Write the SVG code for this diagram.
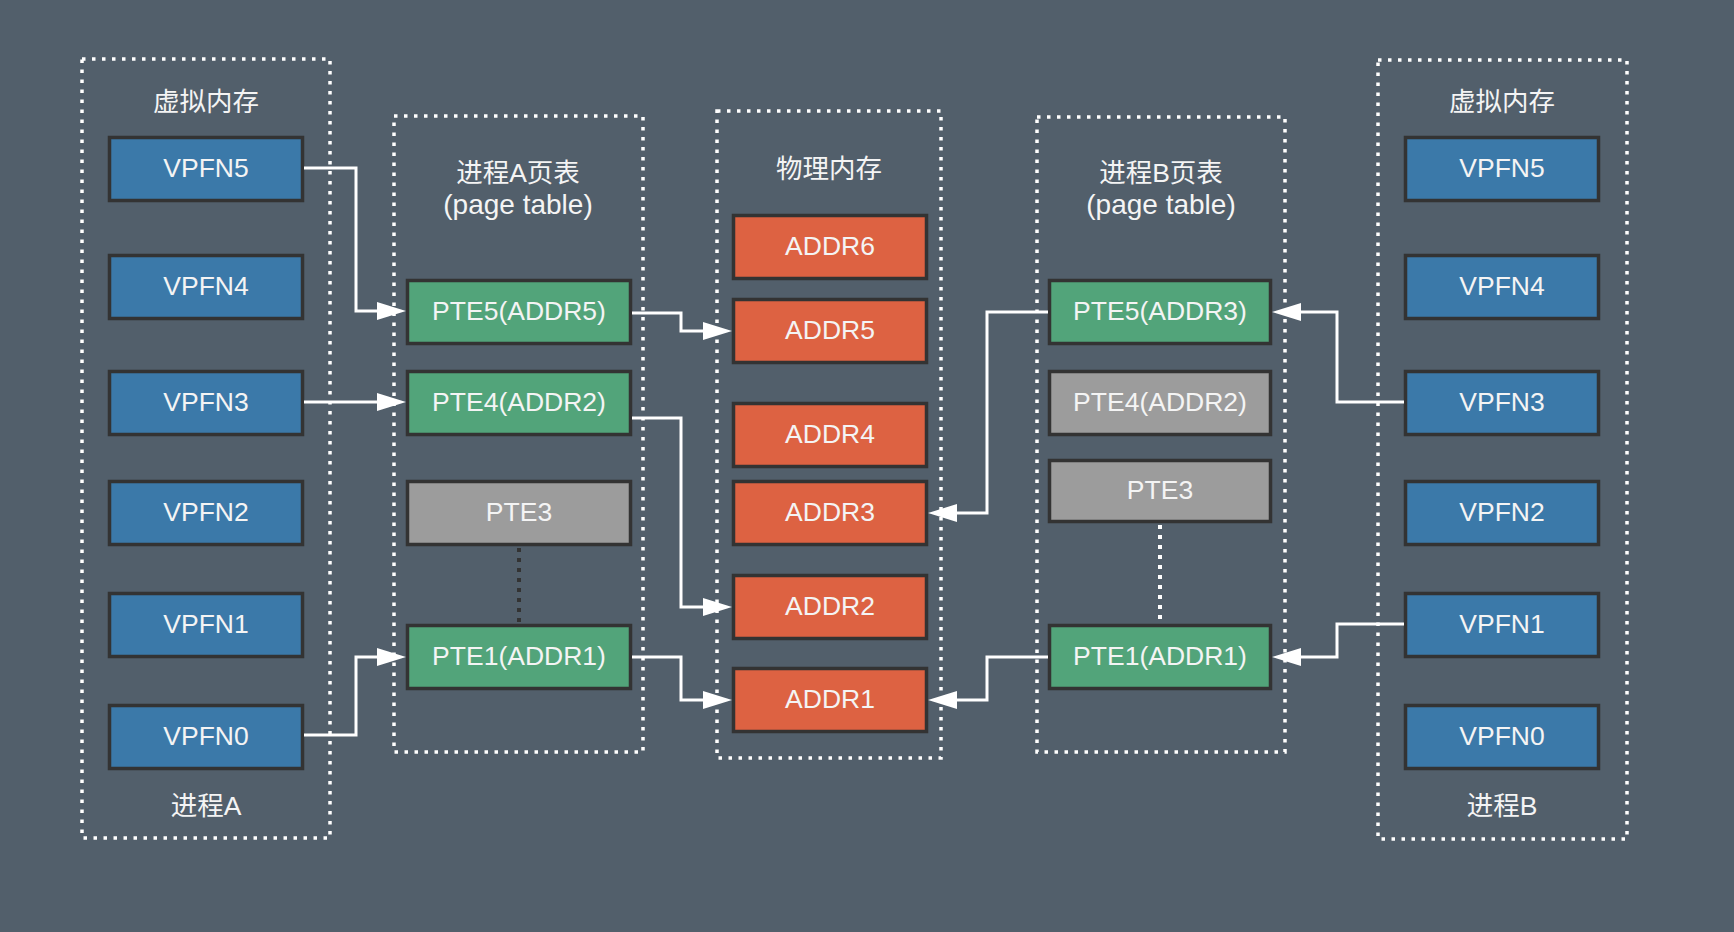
<svg xmlns="http://www.w3.org/2000/svg" width="1734" height="932" viewBox="0 0 1734 932">
<defs>
<style>
.bg{fill:#525f6b}
.grp{fill:none;stroke:#ffffff;stroke-width:3.5;stroke-dasharray:3.5 6.5}
.box{stroke:#333333;stroke-width:3.5}
.blue{fill:#3b79a9}
.green{fill:#52a47a}
.red{fill:#dd6242}
.gray{fill:#9c9c9c}
text{font-family:"Liberation Sans","Noto Sans CJK SC",sans-serif;fill:#f4f4f4;text-anchor:middle}
.lbl{font-size:26.5px}
.ttl{font-size:26.5px}
.sub{font-size:28px}
.conn{fill:none;stroke:#ffffff;stroke-width:3;marker-end:url(#arr)}
.dotd{fill:none;stroke:#333333;stroke-width:4;stroke-dasharray:4 6}
.dotw{fill:none;stroke:#ffffff;stroke-width:4;stroke-dasharray:4 6}
</style>
<marker id="arr" markerUnits="userSpaceOnUse" markerWidth="30" markerHeight="20" refX="19" refY="9" orient="auto">
<path d="M0,0 L29,9 L0,18 Z" fill="#ffffff"/>
</marker>
</defs>
<rect class="bg" x="0" y="0" width="1734" height="932"/>

<g id="processA">
<rect class="grp" x="82" y="59" width="248" height="779"/>
<text class="ttl" x="206" y="111">虚拟内存</text>
<text class="ttl" x="206" y="815">进程A</text>
</g>
<g id="a-vpfn5"><rect class="box blue" x="109.5" y="137.5" width="193" height="63"/><text class="lbl" x="206" y="177">VPFN5</text></g>
<g id="a-vpfn4"><rect class="box blue" x="109.5" y="255.5" width="193" height="63"/><text class="lbl" x="206" y="295">VPFN4</text></g>
<g id="a-vpfn3"><rect class="box blue" x="109.5" y="371.5" width="193" height="63"/><text class="lbl" x="206" y="411">VPFN3</text></g>
<g id="a-vpfn2"><rect class="box blue" x="109.5" y="481.5" width="193" height="63"/><text class="lbl" x="206" y="521">VPFN2</text></g>
<g id="a-vpfn1"><rect class="box blue" x="109.5" y="593.5" width="193" height="63"/><text class="lbl" x="206" y="633">VPFN1</text></g>
<g id="a-vpfn0"><rect class="box blue" x="109.5" y="705.5" width="193" height="63"/><text class="lbl" x="206" y="745">VPFN0</text></g>

<g id="pagetableA">
<rect class="grp" x="394" y="116" width="249" height="636"/>
<text class="ttl" x="518" y="182">进程A页表</text>
<text class="sub" x="518" y="214">(page table)</text>
<path class="dotd" d="M519,548 V624"/>
</g>
<g id="a-pte5"><rect class="box green" x="407.5" y="280.5" width="223" height="63"/><text class="lbl" x="519" y="320">PTE5(ADDR5)</text></g>
<g id="a-pte4"><rect class="box green" x="407.5" y="371.5" width="223" height="63"/><text class="lbl" x="519" y="411">PTE4(ADDR2)</text></g>
<g id="a-pte3"><rect class="box gray" x="407.5" y="481.5" width="223" height="63"/><text class="lbl" x="519" y="521">PTE3</text></g>
<g id="a-pte1"><rect class="box green" x="407.5" y="625.5" width="223" height="63"/><text class="lbl" x="519" y="665">PTE1(ADDR1)</text></g>

<g id="physical">
<rect class="grp" x="717" y="111" width="224" height="647"/>
<text class="ttl" x="829" y="178">物理内存</text>
</g>
<g id="addr6"><rect class="box red" x="733.5" y="215.5" width="193" height="63"/><text class="lbl" x="830" y="255">ADDR6</text></g>
<g id="addr5"><rect class="box red" x="733.5" y="299.5" width="193" height="63"/><text class="lbl" x="830" y="339">ADDR5</text></g>
<g id="addr4"><rect class="box red" x="733.5" y="403.5" width="193" height="63"/><text class="lbl" x="830" y="443">ADDR4</text></g>
<g id="addr3"><rect class="box red" x="733.5" y="481.5" width="193" height="63"/><text class="lbl" x="830" y="521">ADDR3</text></g>
<g id="addr2"><rect class="box red" x="733.5" y="575.5" width="193" height="63"/><text class="lbl" x="830" y="615">ADDR2</text></g>
<g id="addr1"><rect class="box red" x="733.5" y="668.5" width="193" height="63"/><text class="lbl" x="830" y="708">ADDR1</text></g>

<g id="pagetableB">
<rect class="grp" x="1037" y="117" width="248" height="635"/>
<text class="ttl" x="1161" y="182">进程B页表</text>
<text class="sub" x="1161" y="214">(page table)</text>
<path class="dotw" d="M1160,525 V624"/>
</g>
<g id="b-pte5"><rect class="box green" x="1049.5" y="280.5" width="221" height="63"/><text class="lbl" x="1160" y="320">PTE5(ADDR3)</text></g>
<g id="b-pte4"><rect class="box gray" x="1049.5" y="371.5" width="221" height="63"/><text class="lbl" x="1160" y="411">PTE4(ADDR2)</text></g>
<g id="b-pte3"><rect class="box gray" x="1049.5" y="460.5" width="221" height="61"/><text class="lbl" x="1160" y="499">PTE3</text></g>
<g id="b-pte1"><rect class="box green" x="1049.5" y="625.5" width="221" height="63"/><text class="lbl" x="1160" y="665">PTE1(ADDR1)</text></g>

<g id="processB">
<rect class="grp" x="1378" y="60" width="249" height="779"/>
<text class="ttl" x="1502" y="111">虚拟内存</text>
<text class="ttl" x="1502" y="815">进程B</text>
</g>
<g id="b-vpfn5"><rect class="box blue" x="1405.5" y="137.5" width="193" height="63"/><text class="lbl" x="1502" y="177">VPFN5</text></g>
<g id="b-vpfn4"><rect class="box blue" x="1405.5" y="255.5" width="193" height="63"/><text class="lbl" x="1502" y="295">VPFN4</text></g>
<g id="b-vpfn3"><rect class="box blue" x="1405.5" y="371.5" width="193" height="63"/><text class="lbl" x="1502" y="411">VPFN3</text></g>
<g id="b-vpfn2"><rect class="box blue" x="1405.5" y="481.5" width="193" height="63"/><text class="lbl" x="1502" y="521">VPFN2</text></g>
<g id="b-vpfn1"><rect class="box blue" x="1405.5" y="593.5" width="193" height="63"/><text class="lbl" x="1502" y="633">VPFN1</text></g>
<g id="b-vpfn0"><rect class="box blue" x="1405.5" y="705.5" width="193" height="63"/><text class="lbl" x="1502" y="745">VPFN0</text></g>

<g id="connectors">
<path class="conn" d="M304,168 H356 V311 H396"/>
<path class="conn" d="M304,402 H396"/>
<path class="conn" d="M304,735 H356 V657 H396"/>
<path class="conn" d="M632,313 H681 V331 H722"/>
<path class="conn" d="M632,418 H681 V607 H722"/>
<path class="conn" d="M632,657 H681 V700 H722"/>
<path class="conn" d="M1048,312 H987 V513 H938"/>
<path class="conn" d="M1048,657 H987 V700 H938"/>
<path class="conn" d="M1404,402 H1337 V312 H1282"/>
<path class="conn" d="M1404,624 H1337 V657 H1282"/>
</g>
</svg>
